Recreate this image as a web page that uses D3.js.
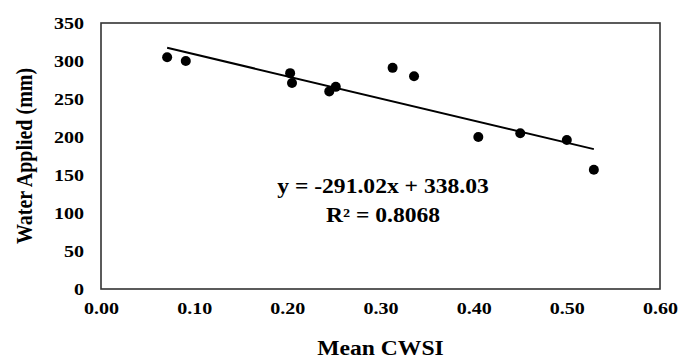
<!DOCTYPE html>
<html>
<head>
<meta charset="utf-8">
<script src="https://cdn.jsdelivr.net/npm/d3@7"></script>
<style>
  body { margin: 0; background: #fff; }
  text { font-family: "Liberation Serif", "Times New Roman", serif; font-weight: bold; fill: #000; }
</style>
</head>
<body>
<div id="chart"></div>
<script>
const cwsi = [0.071, 0.091, 0.203, 0.205, 0.245, 0.252, 0.313, 0.336, 0.405, 0.450, 0.500, 0.529];
const waterApplied = [305, 300, 284, 271, 260, 266, 291, 280, 200, 205, 196, 157];
const xTicks = [0, 0.1, 0.2, 0.3, 0.4, 0.5, 0.6];
const yTicks = [0, 50, 100, 150, 200, 250, 300, 350];
const slope = -291.02;
const intercept = 338.03;
const rSquared = 0.8068;

const W = 694, H = 361;
const M = {left: 101, right: 34, top: 23, bottom: 72};
const SX = 1.18; // text in the source is stretched horizontally

const svg = d3.select("#chart").append("svg")
    .attr("width", W)
    .attr("height", H);

const x = d3.scaleLinear().domain([0, 0.6]).range([M.left, W - M.right]);
const y = d3.scaleLinear().domain([0, 350]).range([H - M.bottom, M.top]);

// x axis
const gx = svg.append("g")
    .attr("transform", "translate(0," + y(0) + ")")
    .call(d3.axisBottom(x).tickValues(xTicks).tickFormat(d3.format(".2f")).tickSize(0).tickPadding(13));
gx.select(".domain").remove();
gx.selectAll("text")
    .style("font-size", "17px")
    .attr("transform", "scale(" + SX + ",1)");

// y axis
const gy = svg.append("g")
    .attr("transform", "translate(" + x(0) + ",0)")
    .call(d3.axisLeft(y).tickValues(yTicks).tickSize(0));
gy.select(".domain").remove();
gy.selectAll("text")
    .style("font-size", "17px")
    .attr("x", 0)
    .attr("transform", "translate(-17,0) scale(" + SX + ",1)");

// plot frame
svg.append("rect")
    .attr("x", x(0))
    .attr("y", y(350))
    .attr("width", x(0.6) - x(0))
    .attr("height", y(0) - y(350))
    .attr("fill", "none")
    .attr("stroke", "#333")
    .attr("stroke-width", 1.6);

// trend line
const xr = d3.extent(cwsi);
svg.append("line")
    .attr("x1", x(xr[0]))
    .attr("y1", y(slope * xr[0] + intercept))
    .attr("x2", x(xr[1]))
    .attr("y2", y(slope * xr[1] + intercept))
    .attr("stroke", "#000")
    .attr("stroke-width", 2);

// points
svg.selectAll("circle.pt")
    .data(cwsi)
    .enter().append("circle")
    .attr("class", "pt")
    .attr("cx", d => x(d))
    .attr("cy", (d, i) => y(waterApplied[i]))
    .attr("r", 5)
    .attr("fill", "#000");

// equation
const eq = svg.append("g").attr("transform", "translate(383,0)");
eq.append("text")
    .attr("transform", "translate(0,193) scale(" + SX + ",1)")
    .attr("text-anchor", "middle")
    .style("font-size", "20px")
    .text("y = " + slope.toFixed(2) + "x + " + intercept.toFixed(2));
eq.append("text")
    .attr("transform", "translate(0,222) scale(" + SX + ",1)")
    .attr("text-anchor", "middle")
    .style("font-size", "20px")
    .text("R² = " + rSquared.toFixed(4));

// axis titles
svg.append("text")
    .attr("transform", "translate(" + (x(0) + x(0.6)) / 2 + ",355) scale(" + SX + ",1)")
    .attr("text-anchor", "middle")
    .style("font-size", "20px")
    .text("Mean CWSI");

svg.append("text")
    .attr("transform", "translate(32," + (y(0) + y(350)) / 2 + ") rotate(-90) scale(1," + SX + ")")
    .attr("text-anchor", "middle")
    .style("font-size", "20px")
    .text("Water Applied (mm)");
</script>
</body>
</html>
